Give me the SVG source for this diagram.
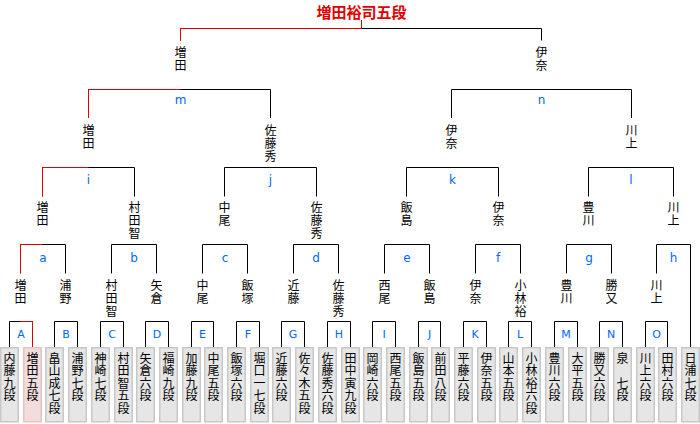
<svg xmlns="http://www.w3.org/2000/svg" width="700" height="424" viewBox="0 0 700 424">
<style>
.ln{fill:none;stroke:#000;stroke-width:1}
.rd{fill:none;stroke:#e00000;stroke-width:1}
.nm{font-family:"Noto Sans CJK JP","Noto Sans CJK SC",sans-serif;font-size:12px;fill:#000;writing-mode:vertical-rl;text-anchor:start;letter-spacing:1px}
.pn{font-family:"Noto Sans CJK JP","Noto Sans CJK SC",sans-serif;font-size:12px;fill:#000;writing-mode:vertical-rl;text-anchor:start;letter-spacing:0.4px}
.lb{font-family:"DejaVu Sans",sans-serif;font-size:12px;text-anchor:middle;fill:#0066ff}
.LB{font-family:"DejaVu Sans",sans-serif;font-size:11px;text-anchor:middle;fill:#0066ff}
.bx{fill:#e6e6e6;stroke:#c8c8c8;stroke-width:1.5}
.bw{fill:#f2dcdc;stroke:#e6c4c4;stroke-width:1.5}
.tt{font-family:"Noto Sans CJK JP","Noto Sans CJK SC",sans-serif;font-size:15px;font-weight:bold;text-anchor:middle;fill:#e00000}
</style>
<rect width="700" height="424" fill="#fff"/>
<g id="connectors">
<path class="ln" d="M180.5 40.5V28.5H541.5V40.5"/>
<path class="ln" d="M88.5 118V89.5H270.5V118"/>
<path class="ln" d="M451.5 118V89.5H631.5V118"/>
<path class="ln" d="M42.5 196.5V167.5H134.5V196.5"/>
<path class="ln" d="M224.5 196.5V167.5H316.5V196.5"/>
<path class="ln" d="M406.5 196.5V167.5H498.5V196.5"/>
<path class="ln" d="M588.5 196.5V167.5H673.5V196.5"/>
<path class="ln" d="M20.5 273.5V244.5H65.5V273.5"/>
<path class="ln" d="M111.5 273.5V244.5H156.5V273.5"/>
<path class="ln" d="M202.5 273.5V244.5H247.5V273.5"/>
<path class="ln" d="M293.5 273.5V244.5H338.5V273.5"/>
<path class="ln" d="M384.5 273.5V244.5H429.5V273.5"/>
<path class="ln" d="M475.5 273.5V244.5H520.5V273.5"/>
<path class="ln" d="M566.5 273.5V244.5H611.5V273.5"/>
<path class="ln" d="M656.5 273.5V244.5H690.5V347"/>
<path class="ln" d="M9.5 347V321.5H32.5V347"/>
<path class="ln" d="M54.5 347V321.5H77.5V347"/>
<path class="ln" d="M100.5 347V321.5H123.5V347"/>
<path class="ln" d="M145.5 347V321.5H168.5V347"/>
<path class="ln" d="M191.5 347V321.5H213.5V347"/>
<path class="ln" d="M236.5 347V321.5H259.5V347"/>
<path class="ln" d="M281.5 347V321.5H304.5V347"/>
<path class="ln" d="M327.5 347V321.5H350.5V347"/>
<path class="ln" d="M372.5 347V321.5H395.5V347"/>
<path class="ln" d="M418.5 347V321.5H440.5V347"/>
<path class="ln" d="M463.5 347V321.5H486.5V347"/>
<path class="ln" d="M508.5 347V321.5H531.5V347"/>
<path class="ln" d="M554.5 347V321.5H577.5V347"/>
<path class="ln" d="M599.5 347V321.5H622.5V347"/>
<path class="ln" d="M645.5 347V321.5H667.5V347"/>
<path class="rd" d="M361.5 20V28.5H180.5V40.5"/>
<path class="rd" d="M180.5 89.5H88.5V118"/>
<path class="rd" d="M88.5 167.5H42.5V196.5"/>
<path class="rd" d="M42.5 244.5H20.5V273.5"/>
<path class="rd" d="M20.5 321.5H32.5V347"/>
</g>
<g id="bracket-labels">
<text class="lb" x="180.5" y="103.5">m</text>
<text class="lb" x="541.5" y="103.5">n</text>
<text class="lb" x="88.5" y="184">i</text>
<text class="lb" x="270.5" y="184">j</text>
<text class="lb" x="452.5" y="184">k</text>
<text class="lb" x="631" y="184">l</text>
<text class="lb" x="43" y="261.5">a</text>
<text class="lb" x="134" y="261.5">b</text>
<text class="lb" x="225" y="261.5">c</text>
<text class="lb" x="316" y="261.5">d</text>
<text class="lb" x="407" y="261.5">e</text>
<text class="lb" x="498" y="261.5">f</text>
<text class="lb" x="589" y="261.5">g</text>
<text class="lb" x="673.5" y="261.5">h</text>
<text class="LB" x="21" y="337.5">A</text>
<text class="LB" x="66" y="337.5">B</text>
<text class="LB" x="112" y="337.5">C</text>
<text class="LB" x="157" y="337.5">D</text>
<text class="LB" x="202.5" y="337.5">E</text>
<text class="LB" x="248" y="337.5">F</text>
<text class="LB" x="293" y="337.5">G</text>
<text class="LB" x="339" y="337.5">H</text>
<text class="LB" x="384" y="337.5">I</text>
<text class="LB" x="429.5" y="337.5">J</text>
<text class="LB" x="475" y="337.5">K</text>
<text class="LB" x="520" y="337.5">L</text>
<text class="LB" x="566" y="337.5">M</text>
<text class="LB" x="611" y="337.5">N</text>
<text class="LB" x="656.5" y="337.5">O</text>
</g>
<g id="champion"><text class="tt" x="361.5" y="17.5">増田裕司五段</text></g>
<g id="final-masuda"><text class="nm" x="180.5" y="46">増田</text></g>
<g id="final-ina"><text class="nm" x="541.5" y="46">伊奈</text></g>
<g id="m-masuda"><text class="nm" x="88.5" y="124.5">増田</text></g>
<g id="m-sato"><text class="nm" x="270.5" y="124.5">佐藤秀</text></g>
<g id="n-ina"><text class="nm" x="451.5" y="124.5">伊奈</text></g>
<g id="n-kawakami"><text class="nm" x="631.5" y="124.5">川上</text></g>
<g id="i-masuda"><text class="nm" x="42.5" y="201">増田</text></g>
<g id="i-murata"><text class="nm" x="134.5" y="201">村田智</text></g>
<g id="j-nakao"><text class="nm" x="224.5" y="201">中尾</text></g>
<g id="j-sato"><text class="nm" x="316.5" y="201">佐藤秀</text></g>
<g id="k-iijima"><text class="nm" x="406.5" y="201">飯島</text></g>
<g id="k-ina"><text class="nm" x="498.5" y="201">伊奈</text></g>
<g id="l-toyokawa"><text class="nm" x="588.5" y="201">豊川</text></g>
<g id="l-kawakami"><text class="nm" x="673.5" y="201">川上</text></g>
<g id="a-masuda"><text class="nm" x="20.5" y="279.5">増田</text></g>
<g id="a-urano"><text class="nm" x="65.5" y="279.5">浦野</text></g>
<g id="b-murata"><text class="nm" x="111.5" y="279.5">村田智</text></g>
<g id="b-yagura"><text class="nm" x="156.5" y="279.5">矢倉</text></g>
<g id="c-nakao"><text class="nm" x="202.5" y="279.5">中尾</text></g>
<g id="c-iizuka"><text class="nm" x="247.5" y="279.5">飯塚</text></g>
<g id="d-kondo"><text class="nm" x="293.5" y="279.5">近藤</text></g>
<g id="d-sato"><text class="nm" x="338.5" y="279.5">佐藤秀</text></g>
<g id="e-nishio"><text class="nm" x="384.5" y="279.5">西尾</text></g>
<g id="e-iijima"><text class="nm" x="429.5" y="279.5">飯島</text></g>
<g id="f-ina"><text class="nm" x="475.5" y="279.5">伊奈</text></g>
<g id="f-kobayashi"><text class="nm" x="520.5" y="279.5">小林裕</text></g>
<g id="g-toyokawa"><text class="nm" x="566.5" y="279.5">豊川</text></g>
<g id="g-katsumata"><text class="nm" x="611.5" y="279.5">勝又</text></g>
<g id="h-kawakami"><text class="nm" x="656.5" y="279.5">川上</text></g>
<g id="p00"><rect class="bx" x="0.75" y="347.75" width="17.5" height="74"/><text class="pn" x="9.5" y="352.5">内藤九段</text></g>
<g id="p01"><rect class="bw" x="23.75" y="347.75" width="17.5" height="74"/><text class="pn" x="32.5" y="352.5">増田五段</text></g>
<g id="p02"><rect class="bx" x="45.75" y="347.75" width="17.5" height="74"/><text class="pn" x="54.5" y="352.5">畠山成七段</text></g>
<g id="p03"><rect class="bx" x="68.75" y="347.75" width="17.5" height="74"/><text class="pn" x="77.5" y="352.5">浦野七段</text></g>
<g id="p04"><rect class="bx" x="91.75" y="347.75" width="17.5" height="74"/><text class="pn" x="100.5" y="352.5">神崎七段</text></g>
<g id="p05"><rect class="bx" x="114.75" y="347.75" width="17.5" height="74"/><text class="pn" x="123.5" y="352.5">村田智五段</text></g>
<g id="p06"><rect class="bx" x="136.75" y="347.75" width="17.5" height="74"/><text class="pn" x="145.5" y="352.5">矢倉六段</text></g>
<g id="p07"><rect class="bx" x="159.75" y="347.75" width="17.5" height="74"/><text class="pn" x="168.5" y="352.5">福崎九段</text></g>
<g id="p08"><rect class="bx" x="182.75" y="347.75" width="17.5" height="74"/><text class="pn" x="191.5" y="352.5">加藤九段</text></g>
<g id="p09"><rect class="bx" x="204.75" y="347.75" width="17.5" height="74"/><text class="pn" x="213.5" y="352.5">中尾五段</text></g>
<g id="p10"><rect class="bx" x="227.75" y="347.75" width="17.5" height="74"/><text class="pn" x="236.5" y="352.5">飯塚六段</text></g>
<g id="p11"><rect class="bx" x="250.75" y="347.75" width="17.5" height="74"/><text class="pn" x="259.5" y="352.5">堀口一七段</text></g>
<g id="p12"><rect class="bx" x="272.75" y="347.75" width="17.5" height="74"/><text class="pn" x="281.5" y="352.5">近藤六段</text></g>
<g id="p13"><rect class="bx" x="295.75" y="347.75" width="17.5" height="74"/><text class="pn" x="304.5" y="352.5">佐々木五段</text></g>
<g id="p14"><rect class="bx" x="318.75" y="347.75" width="17.5" height="74"/><text class="pn" x="327.5" y="352.5">佐藤秀六段</text></g>
<g id="p15"><rect class="bx" x="341.75" y="347.75" width="17.5" height="74"/><text class="pn" x="350.5" y="352.5">田中寅九段</text></g>
<g id="p16"><rect class="bx" x="363.75" y="347.75" width="17.5" height="74"/><text class="pn" x="372.5" y="352.5">岡崎六段</text></g>
<g id="p17"><rect class="bx" x="386.75" y="347.75" width="17.5" height="74"/><text class="pn" x="395.5" y="352.5">西尾五段</text></g>
<g id="p18"><rect class="bx" x="409.75" y="347.75" width="17.5" height="74"/><text class="pn" x="418.5" y="352.5">飯島五段</text></g>
<g id="p19"><rect class="bx" x="431.75" y="347.75" width="17.5" height="74"/><text class="pn" x="440.5" y="352.5">前田八段</text></g>
<g id="p20"><rect class="bx" x="454.75" y="347.75" width="17.5" height="74"/><text class="pn" x="463.5" y="352.5">平藤六段</text></g>
<g id="p21"><rect class="bx" x="477.75" y="347.75" width="17.5" height="74"/><text class="pn" x="486.5" y="352.5">伊奈五段</text></g>
<g id="p22"><rect class="bx" x="499.75" y="347.75" width="17.5" height="74"/><text class="pn" x="508.5" y="352.5">山本五段</text></g>
<g id="p23"><rect class="bx" x="522.75" y="347.75" width="17.5" height="74"/><text class="pn" x="531.5" y="352.5">小林裕六段</text></g>
<g id="p24"><rect class="bx" x="545.75" y="347.75" width="17.5" height="74"/><text class="pn" x="554.5" y="352.5">豊川六段</text></g>
<g id="p25"><rect class="bx" x="568.75" y="347.75" width="17.5" height="74"/><text class="pn" x="577.5" y="352.5">大平五段</text></g>
<g id="p26"><rect class="bx" x="590.75" y="347.75" width="17.5" height="74"/><text class="pn" x="599.5" y="352.5">勝又六段</text></g>
<g id="p27"><rect class="bx" x="613.75" y="347.75" width="17.5" height="74"/><text class="pn" x="622.5" y="352.5">泉　七段</text></g>
<g id="p28"><rect class="bx" x="636.75" y="347.75" width="17.5" height="74"/><text class="pn" x="645.5" y="352.5">川上六段</text></g>
<g id="p29"><rect class="bx" x="658.75" y="347.75" width="17.5" height="74"/><text class="pn" x="667.5" y="352.5">田村六段</text></g>
<g id="p30"><rect class="bx" x="681.75" y="347.75" width="17.5" height="74"/><text class="pn" x="690.5" y="352.5">日浦七段</text></g>
</svg>
